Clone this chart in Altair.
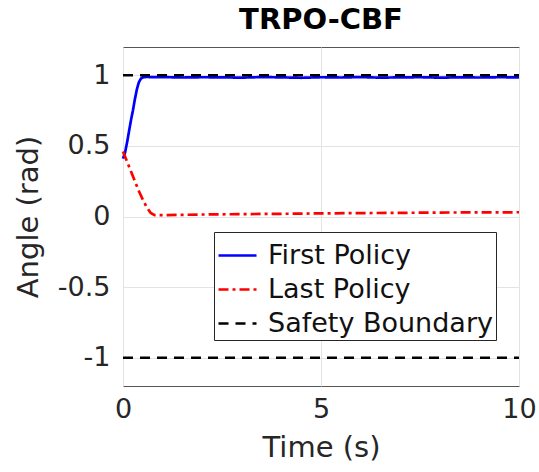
import altair as alt
import pandas as pd

# ---- data ----
first_t = [0, 0.05, 0.1, 0.15, 0.2, 0.25, 0.3, 0.35, 0.4, 0.45, 0.5, 0.6, 0.8, 1.0,
           1.5, 2.0, 2.5, 3.0, 3.5, 4.0, 4.5, 5.0, 5.5, 6.0, 6.5, 7.0, 7.5, 8.0,
           8.5, 9.0, 9.5, 10.0]
first_y = [0.41, 0.45, 0.52, 0.60, 0.68, 0.75, 0.83, 0.90, 0.95, 0.975, 0.985, 0.988,
           0.986, 0.987, 0.984, 0.986, 0.985, 0.983, 0.987, 0.985, 0.982, 0.986, 0.984,
           0.987, 0.983, 0.985, 0.986, 0.983, 0.985, 0.984, 0.986, 0.985]

last_t = [0, 0.1, 0.2, 0.3, 0.4, 0.5, 0.6, 0.7, 0.8, 1.0, 1.5, 2.0, 3.0, 4.0, 5.0,
          6.0, 7.0, 8.0, 9.0, 10.0]
last_y = [0.46, 0.39, 0.32, 0.25, 0.18, 0.12, 0.065, 0.025, 0.01, 0.01, 0.012, 0.014,
          0.017, 0.019, 0.022, 0.024, 0.026, 0.028, 0.029, 0.03]

bound_t = [0, 10]
bound_upper = [1, 1]
bound_lower = [-1, -1]

series_names = ["First Policy", "Last Policy", "Safety Boundary"]
series_colors = ["#0000ff", "#ff0000", "#000000"]
series_dashes = [[1, 0], [10, 4, 3, 4], [10, 7]]

x_ticks = [0, 5, 10]
y_ticks = [-1, -0.5, 0, 0.5, 1]

rows = []
for t, y in zip(first_t, first_y):
    rows.append({"t": t, "y": y, "series": "First Policy", "grp": "a"})
for t, y in zip(last_t, last_y):
    rows.append({"t": t, "y": y, "series": "Last Policy", "grp": "b"})
for t, y in zip(bound_t, bound_upper):
    rows.append({"t": t, "y": y, "series": "Safety Boundary", "grp": "c"})
for t, y in zip(bound_t, bound_lower):
    rows.append({"t": t, "y": y, "series": "Safety Boundary", "grp": "d"})
df = pd.DataFrame(rows)

FONT = "DejaVu Sans"

def make_legend():
    return alt.Legend(title=None, orient="none", legendX=91, legendY=185,
                      symbolType="stroke", symbolSize=1444,
                      symbolStrokeWidth=2.5, labelFontSize=27,
                      labelOffset=10, rowPadding=-4, padding=3,
                      strokeColor="#262626", fillColor="white",
                      labelColor="#111111", labelLimit=400)

chart = alt.Chart(df).mark_line(strokeWidth=2.7).encode(
    x=alt.X("t:Q", scale=alt.Scale(domain=[0, 10], nice=False),
            axis=alt.Axis(values=x_ticks, title="Time (s)", grid=True,
                          labelFontSize=27, titleFontSize=29, labelPadding=10,
                          titlePadding=11, ticks=False, domain=False,
                          labelFlush=False, labelBound=False,
                          labelExpr="toString(datum.value)")),
    y=alt.Y("y:Q", scale=alt.Scale(domain=[-1.2, 1.2], nice=False, zero=False),
            axis=alt.Axis(values=y_ticks, title="Angle (rad)", grid=True,
                          labelFontSize=27, titleFontSize=29, labelPadding=13,
                          titlePadding=14, ticks=False, domain=False,
                          labelFlush=False,
                          labelExpr="toString(datum.value)")),
    color=alt.Color("series:N", scale=alt.Scale(domain=series_names, range=series_colors),
                    legend=make_legend()),
    strokeDash=alt.StrokeDash("series:N",
                              scale=alt.Scale(domain=series_names, range=series_dashes),
                              legend=make_legend()),
    detail="grp:N",
    order=alt.Order("t:Q"),
).properties(
    width=396, height=339,
    title=alt.TitleParams("TRPO-CBF", fontSize=29, font=FONT, fontWeight="bold",
                          anchor="middle", offset=12, color="#000000"),
    autosize=alt.AutoSizeParams(type="none"),
    padding={"left": 123, "top": 47, "right": 20, "bottom": 86},
).configure(
    font=FONT,
    background="white",
).configure_view(
    stroke="#555555", strokeWidth=1,
).configure_axis(
    labelFont=FONT, titleFont=FONT, labelColor="#262626", titleColor="#262626",
    gridColor="#e3e3e3", gridWidth=1, titleFontWeight="normal",
).configure_legend(
    labelFont=FONT,
)

chart.save("out.html", embed_options={"renderer": "svg", "actions": False})
